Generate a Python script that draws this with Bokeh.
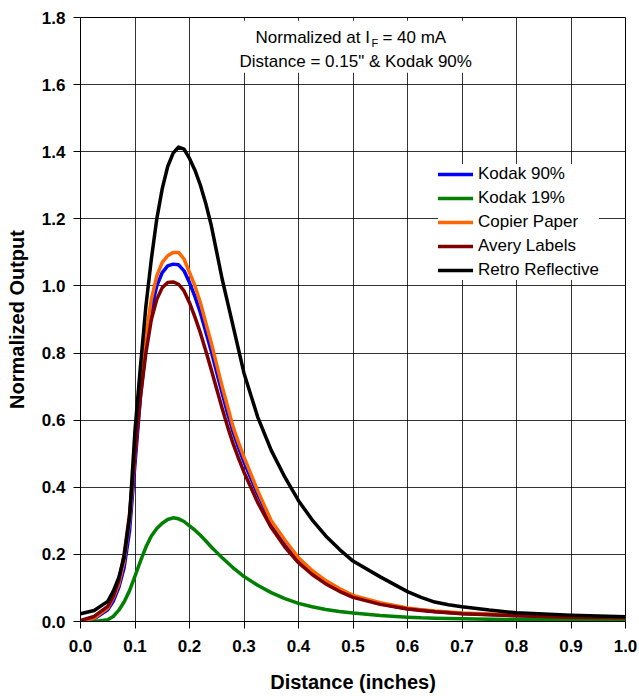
from bokeh.plotting import figure
from bokeh.models import Range1d, FixedTicker, NumeralTickFormatter, Legend, LegendItem, Label, BoxAnnotation
from bokeh.embed import file_html
from bokeh.resources import INLINE

# ---- data ----
distance = [0.0, 0.025, 0.05, 0.06, 0.07, 0.08, 0.09, 0.1, 0.11, 0.12, 0.13, 0.14, 0.15,
            0.16, 0.17, 0.18, 0.19, 0.2, 0.21, 0.22, 0.23, 0.24, 0.25, 0.26, 0.27, 0.28,
            0.29, 0.3, 0.325, 0.35, 0.375, 0.4, 0.425, 0.45, 0.475, 0.5, 0.55, 0.6, 0.625,
            0.65, 0.675, 0.7, 0.75, 0.8, 0.9, 1.0]

kodak90 = [0.0, 0.008, 0.035, 0.06, 0.10, 0.16, 0.27, 0.47, 0.67, 0.82, 0.93, 1.0, 1.04,
           1.06, 1.065, 1.063, 1.045, 1.01, 0.968, 0.92, 0.863, 0.805, 0.742, 0.68, 0.62, 0.565,
           0.518, 0.475, 0.38, 0.295, 0.235, 0.185, 0.148, 0.118, 0.094, 0.075, 0.053, 0.038, 0.034,
           0.030, 0.027, 0.024, 0.021, 0.018, 0.014, 0.011]

kodak19 = [0.0, 0.0, 0.005, 0.015, 0.033, 0.058, 0.092, 0.135, 0.18, 0.222, 0.255, 0.277, 0.293,
           0.304, 0.309, 0.306, 0.298, 0.285, 0.272, 0.257, 0.24, 0.222, 0.206, 0.19, 0.175, 0.16,
           0.147, 0.134, 0.108, 0.086, 0.068, 0.054, 0.044, 0.036, 0.030, 0.025, 0.018, 0.013, 0.011,
           0.010, 0.009, 0.008, 0.007, 0.006, 0.005, 0.004]

copier = [0.0, 0.01, 0.04, 0.07, 0.11, 0.18, 0.30, 0.50, 0.70, 0.85, 0.96, 1.03, 1.07,
          1.09, 1.10, 1.10, 1.08, 1.04, 1.0, 0.95, 0.89, 0.83, 0.765, 0.70, 0.64, 0.58,
          0.533, 0.49, 0.39, 0.30, 0.243, 0.19, 0.152, 0.122, 0.098, 0.078, 0.056, 0.040, 0.035,
          0.031, 0.028, 0.025, 0.022, 0.019, 0.015, 0.012]

avery = [0.003, 0.015, 0.045, 0.075, 0.12, 0.20, 0.32, 0.50, 0.67, 0.80, 0.90, 0.96, 0.995,
         1.01, 1.012, 1.005, 0.985, 0.95, 0.907, 0.86, 0.806, 0.75, 0.692, 0.635, 0.58, 0.53,
         0.486, 0.445, 0.355, 0.28, 0.222, 0.175, 0.14, 0.112, 0.09, 0.072, 0.051, 0.037, 0.033,
         0.029, 0.026, 0.023, 0.020, 0.017, 0.013, 0.011]

retro = [0.023, 0.033, 0.06, 0.09, 0.13, 0.19, 0.31, 0.57, 0.76, 0.94, 1.08, 1.20, 1.29,
         1.356, 1.396, 1.414, 1.408, 1.38, 1.345, 1.30, 1.245, 1.18, 1.10, 1.02, 0.95, 0.88,
         0.81, 0.74, 0.61, 0.51, 0.43, 0.36, 0.303, 0.255, 0.215, 0.18, 0.133, 0.089, 0.072,
         0.058, 0.05, 0.044, 0.034, 0.026, 0.019, 0.014]

series_names = ["Kodak 90%", "Kodak 19%", "Copier Paper", "Avery Labels", "Retro Reflective"]
series_values = [kodak90, kodak19, copier, avery, retro]
series_colors = ["#0000FF", "#008000", "#FF6600", "#800000", "#000000"]

x_ticks = [0.0, 0.1, 0.2, 0.3, 0.4, 0.5, 0.6, 0.7, 0.8, 0.9, 1.0]
y_ticks = [0.0, 0.2, 0.4, 0.6, 0.8, 1.0, 1.2, 1.4, 1.6, 1.8]

FONT = "Liberation Sans"

p = figure(width=638, height=696, output_backend="svg", toolbar_location=None,
           x_range=Range1d(0, 1), y_range=Range1d(0, 1.8),
           min_border_left=80, min_border_right=13, min_border_top=17, min_border_bottom=75)

p.background_fill_color = "white"
p.border_fill_color = "white"
p.outline_line_color = "black"
p.outline_line_width = 1

for ax in (p.xaxis[0], p.yaxis[0]):
    ax.major_tick_out = 7
    ax.major_tick_in = 0
    ax.minor_tick_line_color = None
    ax.axis_line_color = "black"
    ax.major_tick_line_color = "black"
    ax.major_label_text_font = FONT
    ax.major_label_text_font_style = "bold"
    ax.major_label_text_font_size = "17px"
    ax.major_label_text_color = "black"
    ax.axis_label_text_font = FONT
    ax.axis_label_text_font_style = "bold"
    ax.axis_label_text_font_size = "20px"
    ax.axis_label_text_color = "black"
    ax.formatter = NumeralTickFormatter(format="0.0")

p.xaxis[0].ticker = FixedTicker(ticks=x_ticks)
p.yaxis[0].ticker = FixedTicker(ticks=y_ticks)
p.xaxis[0].axis_label = "Distance (inches)"
p.yaxis[0].axis_label = "Normalized Output"
p.xaxis[0].major_label_standoff = 11
p.yaxis[0].major_label_standoff = 8
p.xaxis[0].axis_label_standoff = 16
p.yaxis[0].axis_label_standoff = 11

p.xgrid[0].ticker = FixedTicker(ticks=x_ticks)
p.ygrid[0].ticker = FixedTicker(ticks=y_ticks)
for g in (p.xgrid[0], p.ygrid[0]):
    g.grid_line_color = "black"
    g.grid_line_alpha = 0.8
    g.grid_line_width = 1

renderers = []
for name, vals, col in zip(series_names, series_values, series_colors):
    r = p.line(distance, vals, line_color=col, line_width=3.5, line_join="round", line_cap="round")
    renderers.append((name, r))

# white box behind the note
p.add_layout(BoxAnnotation(left=0.27, right=0.79, bottom=1.635, top=1.79,
                           fill_color="white", fill_alpha=1, line_color=None, level="underlay"))

legend = Legend(items=[LegendItem(label=n, renderers=[r]) for n, r in renderers],
                location=(358, 341), orientation="vertical",
                label_text_font=FONT, label_text_font_size="17px", label_text_color="black",
                glyph_width=35, glyph_height=20, label_height=20, label_standoff=5,
                spacing=4, padding=8, margin=0,
                border_line_color=None, background_fill_color="white", background_fill_alpha=1)
p.add_layout(legend, "center")

# note
note_x = 0.531
p.add_layout(Label(x=note_x, y=1.74, text="Normalized at I", text_align="right",
                   text_baseline="middle", text_font=FONT, text_font_size="17px", text_color="black"))
p.add_layout(Label(x=note_x, y=1.74, x_offset=1.5, y_offset=-5, text="F", text_align="left",
                   text_baseline="middle", text_font=FONT, text_font_size="11px", text_color="black"))
p.add_layout(Label(x=note_x, y=1.74, x_offset=12.5, text=" = 40 mA", text_align="left",
                   text_baseline="middle", text_font=FONT, text_font_size="17px", text_color="black"))
p.add_layout(Label(x=0.505, y=1.67, text="Distance = 0.15\" & Kodak 90%", text_align="center",
                   text_baseline="middle", text_font=FONT, text_font_size="17px", text_color="black"))

open("out.html", "w").write(file_html(p, INLINE))
